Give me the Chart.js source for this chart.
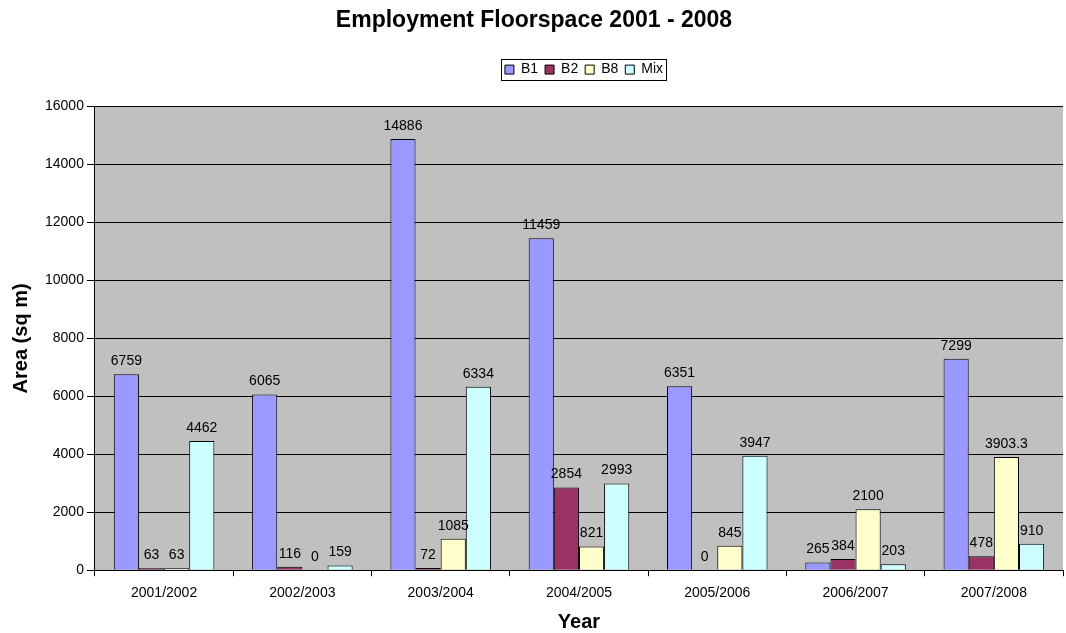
<!DOCTYPE html>
<html>
<head>
<meta charset="utf-8">
<script src="https://cdn.jsdelivr.net/npm/chart.js@4"></script>
<style>
  html, body { margin: 0; padding: 0; background: #fff; }
  #wrap { width: 1066px; height: 633px; }
</style>
</head>
<body>
<div id="wrap"><canvas id="floorspace"></canvas></div>
<script>
// categories + series
const years = ['2001/2002', '2002/2003', '2003/2004', '2004/2005', '2005/2006', '2006/2007', '2007/2008'];
const b1 = [6759, 6065, 14886, 11459, 6351, 265, 7299];
const b2 = [63, 116, 72, 2854, 0, 384, 478];
const b8 = [63, 0, 1085, 821, 845, 2100, 3903.3];
const mix = [4462, 159, 6334, 2993, 3947, 203, 910];
const yTicks = [0, 2000, 4000, 6000, 8000, 10000, 12000, 14000, 16000];

const FONT = 'Arial, "Liberation Sans", sans-serif';

// grey plot area
const plotBg = {
  id: 'plotBg',
  beforeDraw(chart) {
    const a = chart.chartArea, c = chart.ctx;
    c.save();
    c.fillStyle = '#c0c0c0';
    c.fillRect(a.left, a.top, a.right - a.left, a.bottom - a.top);
    c.restore();
  }
};

// legend: extra room under it, centred over the plot, boxed
const legendBox = {
  id: 'legendBox',
  afterInit(chart) {
    const lg = chart.legend;
    const fit = lg.fit;
    lg.fit = function () {
      fit.call(this);
      this.height += 20;
    };
  },
  afterLayout(chart) {
    const lg = chart.legend, a = chart.chartArea;
    const dx = Math.round((a.left + a.right) / 2 - (lg.left + lg.right) / 2 + 5);
    lg.left += dx;
    lg.right += dx;
    (lg.legendHitBoxes || []).forEach(h => { h.left += dx; });
  },
  afterDraw(chart) {
    const hb = chart.legend.legendHitBoxes;
    if (!hb || !hb.length) return;
    const c = chart.ctx;
    const left = Math.min(...hb.map(h => h.left)) - 4;
    const right = Math.max(...hb.map(h => h.left + h.width)) + 3;
    const top = hb[0].top - 4;
    const bottom = hb[0].top + hb[0].height + 3;
    c.save();
    c.strokeStyle = '#000';
    c.lineWidth = 1;
    c.strokeRect(Math.round(left) + 0.5, Math.round(top) + 0.5, Math.round(right - left), Math.round(bottom - top));
    c.restore();
  }
};

// value labels above bars
const valueLabels = {
  id: 'valueLabels',
  afterDatasetsDraw(chart) {
    const c = chart.ctx;
    c.save();
    c.font = '14px ' + FONT;
    c.fillStyle = '#000';
    c.textAlign = 'center';
    c.textBaseline = 'bottom';
    chart.data.datasets.forEach((ds, i) => {
      chart.getDatasetMeta(i).data.forEach((bar, j) => {
        c.fillText(String(ds.data[j]), bar.x, bar.y - 6);
      });
    });
    c.restore();
  }
};

const ctx = document.getElementById('floorspace').getContext('2d');
const chart = new Chart(ctx, {
  type: 'bar',
  data: {
    labels: years,
    datasets: [
      { label: 'B1', data: b1, backgroundColor: '#9999ff' },
      { label: 'B2', data: b2, backgroundColor: '#993366' },
      { label: 'B8', data: b8, backgroundColor: '#ffffcc' },
      { label: 'Mix', data: mix, backgroundColor: '#ccffff' }
    ]
  },
  options: {
    responsive: true,
    maintainAspectRatio: false,
    animation: false,
    layout: { padding: { left: 5, right: 3, top: 5, bottom: 0 } },
    datasets: {
      bar: {
        borderColor: '#000',
        borderWidth: 1,
        categoryPercentage: 0.727,
        barPercentage: 1
      }
    },
    plugins: {
      title: {
        display: true,
        text: 'Employment Floorspace 2001 - 2008',
        color: '#000',
        font: { family: FONT, size: 23, weight: 'bold' },
        padding: { top: 2, bottom: 21 }
      },
      legend: {
        display: true,
        position: 'top',
        labels: {
          color: '#000',
          font: { family: FONT, size: 14 },
          boxWidth: 9,
          boxHeight: 9,
          padding: 7,
          useBorderRadius: false,
          generateLabels(chart) {
            return chart.data.datasets.map((ds, i) => ({
              text: ds.label,
              fillStyle: ds.backgroundColor,
              strokeStyle: '#000',
              lineWidth: 1,
              datasetIndex: i
            }));
          }
        }
      },
      tooltip: { enabled: false }
    },
    scales: {
      x: {
        grid: {
          display: true,
          drawOnChartArea: false,
          color: '#000',
          tickLength: 6,
          offset: true
        },
        border: { color: '#000' },
        ticks: { color: '#000', font: { family: FONT, size: 14 }, padding: 9 },
        title: {
          display: true,
          text: 'Year',
          color: '#000',
          font: { family: FONT, size: 20, weight: 'bold', lineHeight: 1.1 },
          padding: { top: 0, bottom: 0 }
        }
      },
      y: {
        min: 0,
        max: 16000,
        afterBuildTicks(axis) { axis.ticks = yTicks.map(v => ({ value: v })); },
        grid: { color: '#000', tickLength: 8 },
        border: { color: '#000' },
        ticks: {
          color: '#000',
          font: { family: FONT, size: 14 },
          padding: 3,
          callback: v => String(v)
        },
        title: {
          display: true,
          text: 'Area (sq m)',
          color: '#000',
          font: { family: FONT, size: 20, weight: 'bold' },
          padding: { top: 4, bottom: 9 }
        }
      }
    }
  },
  plugins: [plotBg, legendBox, valueLabels]
});
</script>
</body>
</html>
